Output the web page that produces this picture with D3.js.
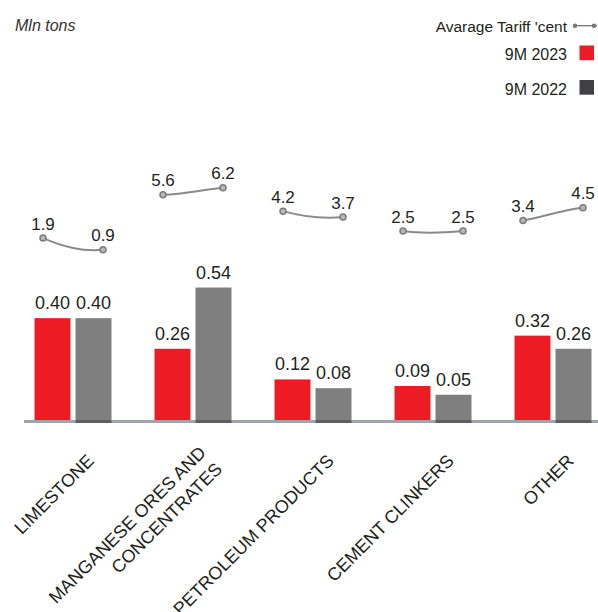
<!DOCTYPE html>
<html>
<head>
<meta charset="utf-8">
<script src="https://cdn.jsdelivr.net/npm/d3@7"></script>
<style>
    body { margin: 0; background: #fff; }
    text { font-family: "Liberation Sans", Arial, sans-serif; fill: #231f20; }
</style>
</head>
<body>
<script>
// categories, one string per label, "\n" splits the lines
let categories = ["LIMESTONE", "MANGANESE ORES AND\nCONCENTRATES", "PETROLEUM PRODUCTS", "CEMENT CLINKERS", "OTHER"];
let series = ["9M 2023", "9M 2022"];

// Mln tons
let volume2023 = [0.40, 0.26, 0.12, 0.09, 0.32];
let volume2022 = [0.40, 0.54, 0.08, 0.05, 0.26];

// avarage tariff, cent
let tariff2023 = [1.9, 5.6, 4.2, 2.5, 3.4];
let tariff2022 = [0.9, 6.2, 3.7, 2.5, 4.5];

let colors = {"9M 2023": "#ed1c24", "9M 2022": "#807f80"};
let legendColors = {"9M 2023": "#ed1c24", "9M 2022": "#414042"};

let svgWidth = 598,
    svgHeight = 612,
    baseY = 421;

let svg = d3.select("body").append("svg")
    .attr("width", svgWidth)
    .attr("height", svgHeight);

let x0 = d3.scaleBand().domain(categories).range([13, 613]);
let x1 = d3.scaleBand().domain(series).range([-38.5, 38.5]).paddingInner(0.122);
let yBar = d3.scaleLinear().domain([-0.07, 0.6]).range([baseY, 274.4]);
let yTariff = d3.scaleLinear().domain([0, 10]).range([260.3, 143.3]);

function center(cat) {
    return x0(cat) + x0.bandwidth() / 2;
}

let rows = categories.map((c, i) => ({
    cat: c,
    bars: [
        {key: series[0], v: volume2023[i]},
        {key: series[1], v: volume2022[i]}
    ],
    tariff: [tariff2023[i], tariff2022[i]]
}));

drawBars();
drawAxisLine();
drawTariffs();
drawCategoryLabels();
drawLegend();

function drawBars() {
    let g = svg.selectAll("g.group").data(rows).enter().append("g")
        .attr("class", "group")
        .attr("transform", d => "translate(" + center(d.cat) + ",0)");

    g.selectAll("rect").data(d => d.bars).enter().append("rect")
        .attr("x", d => x1(d.key))
        .attr("width", x1.bandwidth())
        .attr("y", d => yBar(d.v))
        .attr("height", d => baseY - yBar(d.v))
        .attr("fill", d => colors[d.key]);

    g.selectAll("text.val").data(d => d.bars).enter().append("text")
        .attr("class", "val")
        .attr("x", d => x1(d.key) + x1.bandwidth() / 2)
        .attr("y", d => yBar(d.v) - 9)
        .attr("text-anchor", "middle")
        .style("font-size", "18px")
        .text(d => d3.format(".2f")(d.v));
}

function drawAxisLine() {
    svg.append("line")
        .attr("x1", 24).attr("x2", svgWidth)
        .attr("y1", baseY + 0.5).attr("y2", baseY + 0.5)
        .attr("stroke", "#a2a2ac")
        .attr("stroke-width", 3);

    // darker piece under the grey bars
    rows.forEach(d => {
        svg.append("line")
            .attr("x1", center(d.cat) + x1(series[1]))
            .attr("x2", center(d.cat) + x1(series[1]) + x1.bandwidth())
            .attr("y1", baseY + 0.5).attr("y2", baseY + 0.5)
            .attr("stroke", "#5d5d62")
            .attr("stroke-width", 3);
    });
}

function curvePath(p1, p2) {
    let dx = p2.x - p1.x;
    let c1 = {x: p1.x + dx * 0.35, y: p1.y + (p2.y - p1.y) * 0.5 + 3};
    let c2 = {x: p2.x - dx * 0.35, y: p2.y + 2};
    let p = d3.path();
    p.moveTo(p1.x, p1.y);
    p.bezierCurveTo(c1.x, c1.y, c2.x, c2.y, p2.x, p2.y);
    return p.toString();
}

function drawTariffs() {
    rows.forEach(d => {
        let cx = center(d.cat);
        let pts = d.tariff.map((t, i) => ({x: cx + (i === 0 ? -30 : 30), y: yTariff(t), t: t}));

        svg.append("path")
            .attr("d", curvePath(pts[0], pts[1]))
            .attr("fill", "none")
            .attr("stroke", "#8a8a8a")
            .attr("stroke-width", 2);

        pts.forEach(p => {
            svg.append("circle")
                .attr("cx", p.x).attr("cy", p.y).attr("r", 3)
                .attr("fill", "#b8b8b8")
                .attr("stroke", "#7c7c7c")
                .attr("stroke-width", 1.5);
            svg.append("text")
                .attr("x", p.x)
                .attr("y", p.y - 8.5)
                .attr("text-anchor", "middle")
                .style("font-size", "17px")
                .text(d3.format(".1f")(p.t));
        });
    });
}

function drawCategoryLabels() {
    rows.forEach(d => {
        let lines = d.cat.split("\n");
        let px = center(d.cat) + 22, py = 462;
        let t = svg.append("text")
            .attr("transform", "translate(" + px + "," + py + ") rotate(-45)")
            .attr("text-anchor", "end")
            .style("font-size", "18px");
        let first = -(lines.length - 1) * 11.5;
        lines.forEach((l, i) => {
            t.append("tspan")
                .attr("x", 0)
                .attr("y", first + i * 23)
                .text(l);
        });
    });
}

function drawLegend() {
    svg.append("text")
        .attr("x", 15).attr("y", 31)
        .style("font-size", "16px")
        .style("font-style", "italic")
        .style("fill", "#333")
        .text("Mln tons");

    svg.append("text")
        .attr("x", 567).attr("y", 31.5)
        .attr("text-anchor", "end")
        .style("font-size", "15.5px")
        .text("Avarage Tariff 'cent");
    svg.append("line")
        .attr("x1", 575).attr("x2", 597)
        .attr("y1", 25.7).attr("y2", 25.7)
        .attr("stroke", "#777").attr("stroke-width", 1.3);
    [575, 594].forEach(x => {
        svg.append("circle")
            .attr("cx", x).attr("cy", 25.7).attr("r", 2.3)
            .attr("fill", "#777");
    });

    series.forEach((s, i) => {
        let y = 60 + i * 34.5;
        svg.append("text")
            .attr("x", 567).attr("y", y)
            .attr("text-anchor", "end")
            .style("font-size", "16px")
            .text(s);
        svg.append("rect")
            .attr("x", 579.5).attr("y", y - 14.5)
            .attr("width", 14.5).attr("height", 14.7)
            .attr("fill", legendColors[s]);
    });
}
</script>
</body>
</html>
